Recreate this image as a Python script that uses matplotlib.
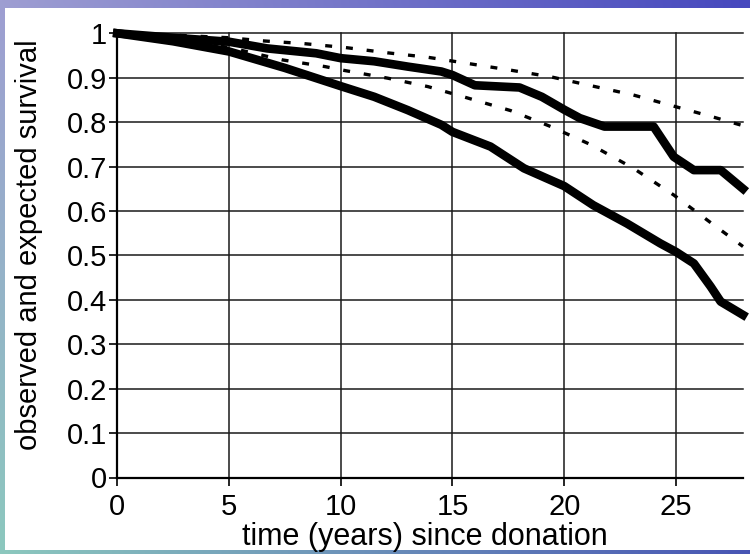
import numpy as np
import matplotlib
matplotlib.use("Agg")
import matplotlib.pyplot as plt
from matplotlib.patches import Rectangle

plt.rcParams['font.family'] = ['Liberation Sans', 'DejaVu Sans']
plt.rcParams['lines.scale_dashes'] = False

# Observed survival, donors (upper) and second cohort (lower)
obs_upper_t = [0, 2.5, 5, 6.7, 8.9, 10, 11.5, 13, 14.5, 15, 16, 18, 19, 20, 20.7, 21.8, 24.0, 24.9, 25.8, 27.0, 28.0]
obs_upper_v = [1.0, 0.99, 0.981, 0.966, 0.955, 0.944, 0.937, 0.925, 0.914, 0.906, 0.883, 0.878, 0.857, 0.828, 0.809, 0.79, 0.79, 0.722, 0.692, 0.692, 0.65]

obs_lower_t = [0, 2.5, 5, 7.5, 10, 11.5, 13, 14.5, 15, 16.7, 18.2, 20, 21.3, 22.8, 24.3, 25, 25.8, 26.55, 27.0, 28.0]
obs_lower_v = [1.0, 0.982, 0.959, 0.922, 0.881, 0.857, 0.827, 0.794, 0.778, 0.745, 0.696, 0.656, 0.613, 0.572, 0.527, 0.508, 0.482, 0.43, 0.396, 0.366]

# Expected survival (dashed)
exp_upper_t = [0, 2.5, 5, 6.5, 8.3, 10.2, 12.1, 13.9, 15.7, 17.6, 19.4, 21.2, 23.1, 24.9, 26.7, 28.0]
exp_upper_v = [1.0, 0.996, 0.99, 0.983, 0.977, 0.968, 0.956, 0.946, 0.932, 0.917, 0.902, 0.882, 0.861, 0.836, 0.811, 0.792]

exp_lower_t = [0, 2.5, 5, 7.4, 9.3, 10.2, 12.1, 13.9, 15.7, 17.6, 19.4, 21.2, 23.1, 24.9, 26.6, 28.0]
exp_lower_v = [1.0, 0.988, 0.968, 0.94, 0.925, 0.916, 0.899, 0.88, 0.854, 0.826, 0.79, 0.749, 0.696, 0.636, 0.572, 0.52]

x_ticks = [0, 5, 10, 15, 20, 25]
y_ticks = [0, 0.1, 0.2, 0.3, 0.4, 0.5, 0.6, 0.7, 0.8, 0.9, 1]
y_tick_labels = ['0', '0.1', '0.2', '0.3', '0.4', '0.5', '0.6', '0.7', '0.8', '0.9', '1']

W, H = 750, 554
fig = plt.figure(figsize=(W / 100, H / 100), dpi=100)

# slide-style gradient backdrop
bg = fig.add_axes([0, 0, 1, 1], zorder=-10)
bg.set_axis_off()
gx = np.linspace(0, 1, 200)[None, :, None]
gy = np.linspace(0, 1, 200)[:, None, None]
tl = np.array([158, 158, 210]) / 255
tr = np.array([70, 72, 190]) / 255
bl = np.array([140, 200, 190]) / 255
br = np.array([72, 85, 180]) / 255
grad = (tl * (1 - gx) * (1 - gy) + tr * gx * (1 - gy)
        + bl * (1 - gx) * gy + br * gx * gy)
bg.imshow(grad, aspect='auto', extent=[0, 1, 0, 1], origin='upper')
bg.set_xlim(0, 1)
bg.set_ylim(0, 1)
bg.add_patch(Rectangle((5 / W, 4 / H), 1 - 5 / W, (546 - 4) / H,
                       facecolor='white', edgecolor='none'))

ax = fig.add_axes([117.3 / W, (H - 477.5) / H, 625.7 / W, 444.2 / H])
ax.set_facecolor('none')
ax.set_xlim(0, 28)
ax.set_ylim(0, 1)

ax.set_xticks(x_ticks)
ax.set_yticks(y_ticks)
ax.set_yticklabels(y_tick_labels)
ax.tick_params(axis='both', direction='out', length=6, width=1.2,
               labelsize=21, colors='black')
ax.tick_params(axis='y', pad=1.5)
ax.tick_params(axis='x', pad=5)

ax.grid(True, color='#1a1a1a', linewidth=1.1, clip_on=False)
ax.set_axisbelow(True)
for side in ('top', 'right'):
    ax.spines[side].set_visible(False)
for side in ('left', 'bottom'):
    ax.spines[side].set_linewidth(1.6)

ax.plot(exp_upper_t, exp_upper_v, color='black', linewidth=2.4,
        dashes=(5, 10), clip_on=False, zorder=3)
ax.plot(exp_lower_t, exp_lower_v, color='black', linewidth=2.4,
        dashes=(5, 10), clip_on=False, zorder=3)
ax.plot(obs_upper_t, obs_upper_v, color='black', linewidth=6.2,
        solid_joinstyle='round', clip_on=False, zorder=4)
ax.plot(obs_lower_t, obs_lower_v, color='black', linewidth=6.2,
        solid_joinstyle='round', clip_on=False, zorder=4)

ax.set_xlabel('time (years) since donation', fontsize=22)
ax.xaxis.label.set_va('baseline')
ax.xaxis.set_label_coords((425 - 117.3) / 625.7, (477.5 - 545) / 444.2)
ax.set_ylabel('observed and expected survival', fontsize=21)
ax.yaxis.set_label_coords((43 - 117.3) / 625.7, (477.5 - 245) / 444.2)

fig.savefig('out.png', dpi=100)
